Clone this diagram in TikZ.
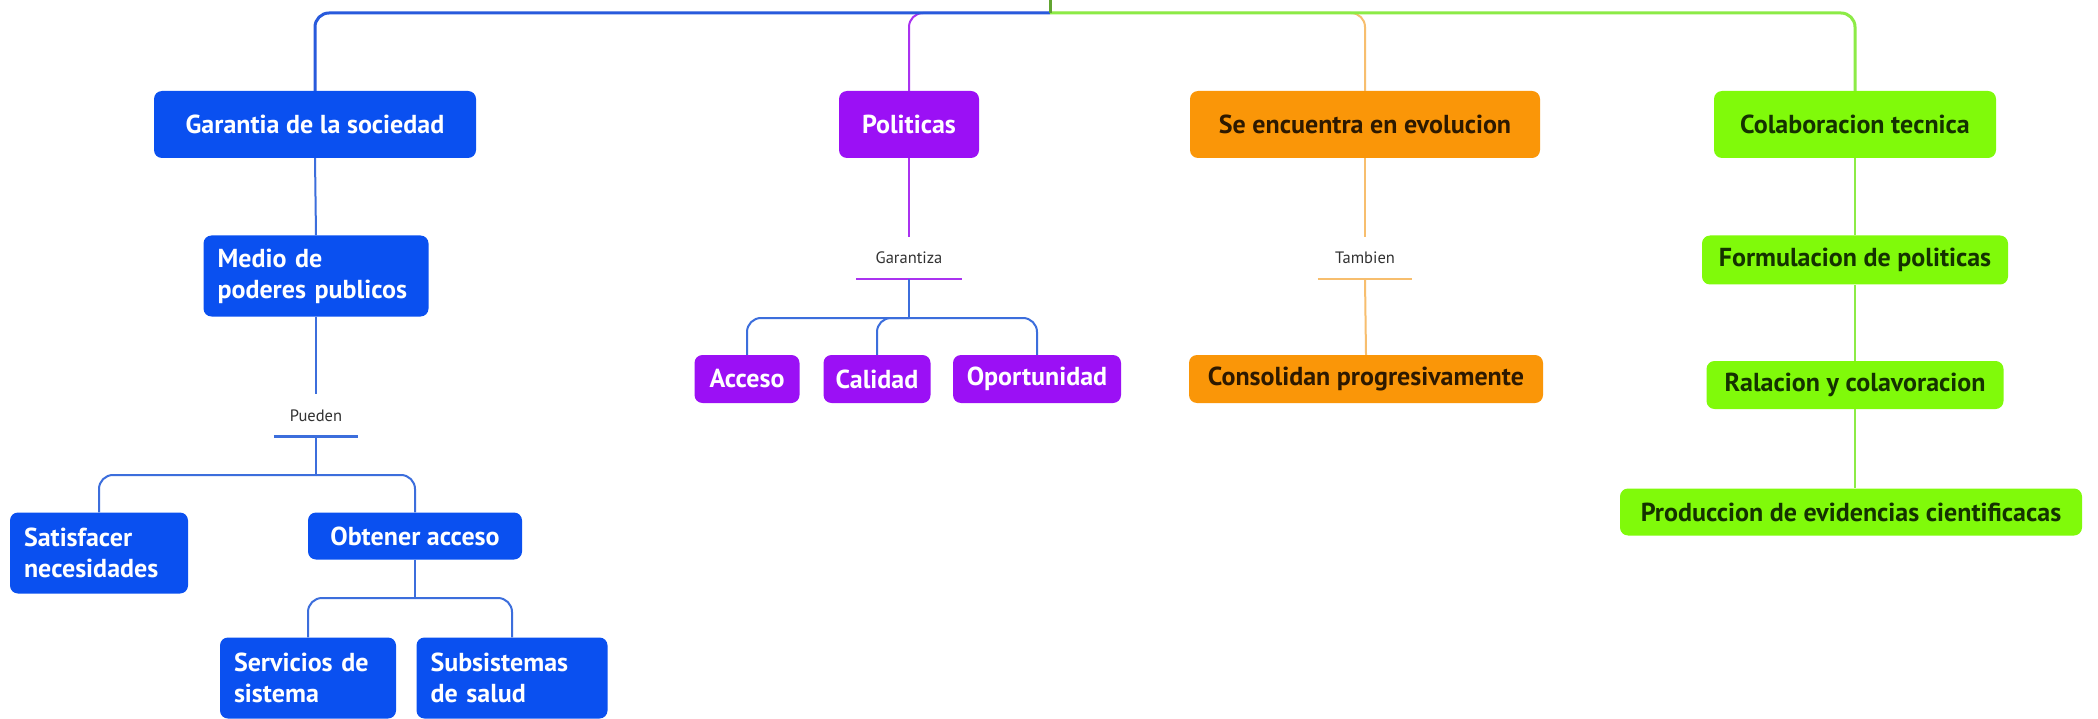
\documentclass[tikz,border=0pt]{standalone}
\usepackage{fontspec}
\setmainfont{PT Sans}
\definecolor{bbox}{RGB}{10,80,240}
\definecolor{pbox}{RGB}{155,16,245}
\definecolor{obox}{RGB}{250,150,8}
\definecolor{gbox}{RGB}{128,250,10}
\definecolor{otext}{RGB}{45,25,0}
\definecolor{gtext}{RGB}{20,50,0}
\definecolor{bline}{RGB}{40,90,220}
\definecolor{bline2}{RGB}{60,110,220}
\definecolor{pline}{RGB}{170,50,240}
\definecolor{oline}{RGB}{247,190,110}
\definecolor{gline}{RGB}{140,235,70}
\definecolor{labtext}{RGB}{50,50,50}
\begin{document}
\begin{tikzpicture}[x=1pt,y=-1pt,
  boxbase/.style={rounded corners=8pt, inner sep=0pt, font=\fontsize{26}{31}\selectfont\bfseries},
  bluebox/.style={boxbase, fill=bbox, text=white},
  purplebox/.style={boxbase, fill=pbox, text=white},
  orangebox/.style={boxbase, fill=obox, text=otext},
  greenbox/.style={boxbase, fill=gbox, text=gtext},
  twoline/.style={inner xsep=14pt, align=left},
  lab/.style={inner sep=0pt, text=labtext, font=\fontsize{16.5}{19}\selectfont, minimum height=42pt},
  topline/.style={line width=3pt, rounded corners=14pt},
  conn/.style={line width=2pt, rounded corners=14pt},
]
\fill[white] (0,0) rectangle (2098,719);
\useasboundingbox (0,0) rectangle (2098,719);

% level 1
\node[bluebox, minimum width=322pt, minimum height=67pt] (g1) at (315,124.5) {Garantia de la sociedad};
\node[purplebox, minimum width=140pt, minimum height=67pt] (p1) at (909,124.5) {Politicas};
\node[orangebox, minimum width=350pt, minimum height=67pt] (o1) at (1365,124.5) {Se encuentra en evolucion};
\node[greenbox, minimum width=282pt, minimum height=67pt] (c1) at (1855,124.5) {Colaboracion tecnica};

% blue branch
\node[bluebox, twoline, text width=197pt, minimum height=81pt] (m) at (316,276) {Medio de\\poderes publicos};
\node[lab, minimum width=84pt] (lp) at (316,415.5) {Pueden};
\node[bluebox, twoline, text width=150pt, minimum height=81pt] (sat) at (99,553) {Satisfacer\\necesidades};
\node[bluebox, minimum width=214pt, minimum height=47pt] (obt) at (415,536) {Obtener acceso};
\node[bluebox, twoline, text width=148pt, minimum height=81pt] (ser) at (308,678) {Servicios de\\sistema};
\node[bluebox, twoline, text width=163pt, minimum height=81pt] (sub) at (512,678) {Subsistemas\\de salud};

% purple branch
\node[lab, minimum width=105pt] (lg) at (909,258) {Garantiza};
\node[purplebox, minimum width=105pt, minimum height=48pt] (acc) at (747,379) {Acceso};
\node[purplebox, minimum width=107pt, minimum height=48pt] (cal) at (877,379) {Calidad};
\node[purplebox, minimum width=168pt, minimum height=48pt] (opo) at (1037,379) {Oportunidad};

% orange branch
\node[lab, minimum width=94pt] (lt) at (1365,258) {Tambien};
\node[orangebox, minimum width=354pt, minimum height=48pt] (con) at (1366,379) {Consolidan progresivamente};

% green branch
\node[greenbox, minimum width=306pt, minimum height=49pt] (f) at (1855,260) {Formulacion de politicas};
\node[greenbox, minimum width=297pt, minimum height=48pt] (r) at (1855,385) {Ralacion y colavoracion};
\node[greenbox, minimum width=462pt, minimum height=47pt] (pr) at (1851,512) {Produccion de evidencias cientificacas};

% coordinates
\coordinate (top) at (1050,0);
\coordinate (root) at (1050,13);
\coordinate (j1) at (316,475);
\coordinate (j2) at (415,598);
\coordinate (j3) at (909,318);

% top connectors
\draw[pline, topline, line width=2pt] (root) -| (p1.north);
\draw[oline, topline, line width=2pt] (root) -| (o1.north);
\draw[bline, topline] (root) -| (g1.north);
\draw[gline, topline] (root) -| (c1.north);
\draw[gline!70!black, line width=3pt] (top) -- (root);

% blue connectors
\draw[bline2, conn] (g1.south) -- (m.north);
\draw[bline2, conn] (m.south) -- (lp.north);
\draw[bline2, line width=2.5pt] (lp.south west) -- (lp.south east);
\draw[bline2, conn] (lp.south) -- (j1);
\draw[bline2, conn] (j1) -| (sat.north);
\draw[bline2, conn] (j1) -| (obt.north);
\draw[bline2, conn] (obt.south) -- (j2);
\draw[bline2, conn] (j2) -| (ser.north);
\draw[bline2, conn] (j2) -| (sub.north);

% purple connectors
\draw[pline, conn] (p1.south) -- (lg.north);
\draw[pline, line width=2.5pt] (lg.south west) -- (lg.south east);
\draw[bline2, conn] (lg.south) -- (j3);
\draw[bline2, conn] (j3) -| (acc.north);
\draw[bline2, conn] (j3) -| (cal.north);
\draw[bline2, conn] (j3) -| (opo.north);

% orange connectors
\draw[oline, conn] (o1.south) -- (lt.north);
\draw[oline, line width=2.5pt] (lt.south west) -- (lt.south east);
\draw[oline, conn] (lt.south) -- (con.north);

% green connectors
\draw[gline, conn] (c1.south) -- (f.north);
\draw[gline, conn] (f.south) -- (r.north);
\draw[gline, conn] (r.south) -- (r.south |- pr.north);
\end{tikzpicture}
\end{document}
